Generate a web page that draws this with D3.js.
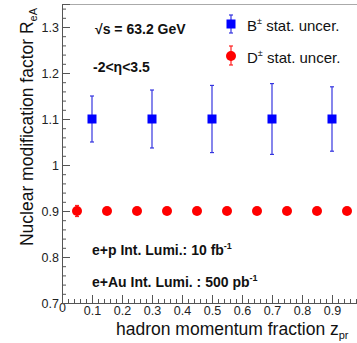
<!DOCTYPE html>
<html><head><meta charset="utf-8">
<script src="https://cdn.jsdelivr.net/npm/d3@7"></script>
<style>
html,body{margin:0;padding:0;background:#fff;}
svg{display:block;font-family:"Liberation Sans",Arial,Helvetica,sans-serif;}
</style></head>
<body><svg id="c" width="357" height="343"></svg>
<script>
// ---- data ----
const bX = [0.1, 0.3, 0.5, 0.7, 0.9];
const bY = [1.1, 1.1, 1.1, 1.1, 1.1];
const bErr = [0.05, 0.063, 0.073, 0.077, 0.07];
const dX = [0.05, 0.15, 0.25, 0.35, 0.45, 0.55, 0.65, 0.75, 0.85, 0.95];
const dY = [0.9, 0.9, 0.9, 0.9, 0.9, 0.9, 0.9, 0.9, 0.9, 0.9];
const dErr = [0.012, 0.007, 0.007, 0.007, 0.007, 0.007, 0.007, 0.007, 0.007, 0.007];
const xTicks = [0, 0.1, 0.2, 0.3, 0.4, 0.5, 0.6, 0.7, 0.8, 0.9];
const yTicks = [0.7, 0.8, 0.9, 1.0, 1.1, 1.2, 1.3];
const legendLabels = ["B", "D"];

const svg = d3.select("#c");
const x = d3.scaleLinear().domain([0, 1]).range([62, 362]);
const y = d3.scaleLinear().domain([0.7, 1.35]).range([303, 4]);

// frame top
svg.append("line").attr("x1", 62).attr("x2", 357).attr("y1", 4.5).attr("y2", 4.5)
  .attr("stroke", "#aaa").attr("stroke-width", 1.2);

// minor ticks
const yMinor = d3.range(0.72, 1.35, 0.02).map(v => +v.toFixed(2)).filter(v => !yTicks.some(t => Math.abs(t - v) < 1e-6));
const xMinor = d3.range(0.02, 1.0, 0.02).map(v => +v.toFixed(2)).filter(v => !xTicks.some(t => Math.abs(t - v) < 1e-6));

const gy = svg.append("g").attr("transform", "translate(62,0)");
gy.call(d3.axisLeft(y).tickValues(yTicks).tickSize(-8).tickPadding(3).tickFormat(d3.format("")));
gy.append("g").call(d3.axisLeft(y).tickValues(yMinor).tickSize(-4).tickFormat(""));
const gx = svg.append("g").attr("transform", "translate(0,303)");
gx.call(d3.axisBottom(x).tickValues(xTicks).tickSize(-8).tickPadding(3).tickFormat(d3.format("")));
gx.append("g").call(d3.axisBottom(x).tickValues(xMinor).tickSize(-4).tickFormat(""));

svg.selectAll(".domain").attr("stroke", "#555").attr("stroke-width", 1);
svg.selectAll(".tick line").attr("stroke", "#555");
svg.selectAll(".tick text").attr("font-size", 12.5).attr("fill", "#222")
  .attr("font-family", "'Liberation Sans',Arial,sans-serif");
gx.selectAll(".tick text").filter(d => d === 0).attr("dy", "0.5em");

// titles
const yt = svg.append("text").attr("transform", "translate(33,127) rotate(-90)")
  .attr("text-anchor", "middle").attr("font-size", 17.5).attr("fill", "#111");
yt.append("tspan").text("Nuclear modification factor R");
yt.append("tspan").attr("font-size", 11).attr("dy", 4).text("eA");

const xt = svg.append("text").attr("x", 116).attr("y", 335).attr("font-size", 17.5).attr("fill", "#111");
xt.append("tspan").text("hadron momentum fraction z");
xt.append("tspan").attr("font-size", 11).attr("dy", 4).text("pr");

// annotations
const bold = (xx, yy, parts) => {
  const t = svg.append("text").attr("x", xx).attr("y", yy).attr("font-size", 14)
    .attr("font-weight", "bold").attr("fill", "#111");
  parts.forEach(p => {
    const s = t.append("tspan").text(p[0]);
    if (p[1]) s.attr("font-size", 9).attr("dy", p[1]);
  });
};
bold(95, 34, [["√s = 63.2 GeV"]]);
bold(93, 72, [["-2<η<3.5"]]);
bold(92, 255, [["e+p Int. Lumi.: 10 fb"], ["-1", -6]]);
bold(92, 287, [["e+Au Int. Lumi. : 500 pb"], ["-1", -6]]);

// error bars & markers
function errBars(X, Y, E, color, w) {
  const g = svg.append("g").attr("stroke", color).attr("stroke-width", w);
  X.forEach((xv, i) => {
    g.append("line").attr("x1", x(xv)).attr("x2", x(xv)).attr("y1", y(Y[i] + E[i])).attr("y2", y(Y[i] - E[i]));
    [Y[i] + E[i], Y[i] - E[i]].forEach(v => g.append("line")
      .attr("x1", x(xv) - 2).attr("x2", x(xv) + 2).attr("y1", y(v)).attr("y2", y(v)));
  });
}
errBars(bX, bY, bErr, "#3535e0", 1.2);
errBars(dX, dY, dErr, "#ff2020", 1.2);

svg.append("g").selectAll("rect").data(bX).join("rect")
  .attr("x", (d) => x(d) - 4.5).attr("y", (d, i) => y(bY[i]) - 4.5)
  .attr("width", 9).attr("height", 9).attr("fill", "#0000ff");
svg.append("g").selectAll("circle").data(dX).join("circle")
  .attr("cx", d => x(d)).attr("cy", (d, i) => y(dY[i])).attr("r", 5).attr("fill", "#ff0000");

// legend
const lg = svg.append("g");
lg.append("line").attr("x1", 231).attr("x2", 231).attr("y1", 15).attr("y2", 33).attr("stroke", "#3535e0").attr("stroke-width", 1.2);
[15, 33].forEach(v => lg.append("line").attr("x1", 229).attr("x2", 233).attr("y1", v).attr("y2", v).attr("stroke", "#3535e0").attr("stroke-width", 1.2));
lg.append("rect").attr("x", 226.5).attr("y", 19.5).attr("width", 9).attr("height", 9).attr("fill", "#0000ff");
lg.append("line").attr("x1", 231).attr("x2", 231).attr("y1", 46).attr("y2", 65).attr("stroke", "#ff2020").attr("stroke-width", 1.2);
[46, 65].forEach(v => lg.append("line").attr("x1", 229).attr("x2", 233).attr("y1", v).attr("y2", v).attr("stroke", "#ff2020").attr("stroke-width", 1.2));
lg.append("circle").attr("cx", 231).attr("cy", 56).attr("r", 5).attr("fill", "#ff0000");
[[31, legendLabels[0]], [63, legendLabels[1]]].forEach(([yy, lab]) => {
  const t = lg.append("text").attr("x", 247).attr("y", yy).attr("font-size", 15).attr("fill", "#111");
  t.append("tspan").text(lab);
  t.append("tspan").attr("font-size", 9).attr("dy", -7).text("±");
  t.append("tspan").attr("dy", 7).text(" stat. uncer.");
});
</script></body></html>
